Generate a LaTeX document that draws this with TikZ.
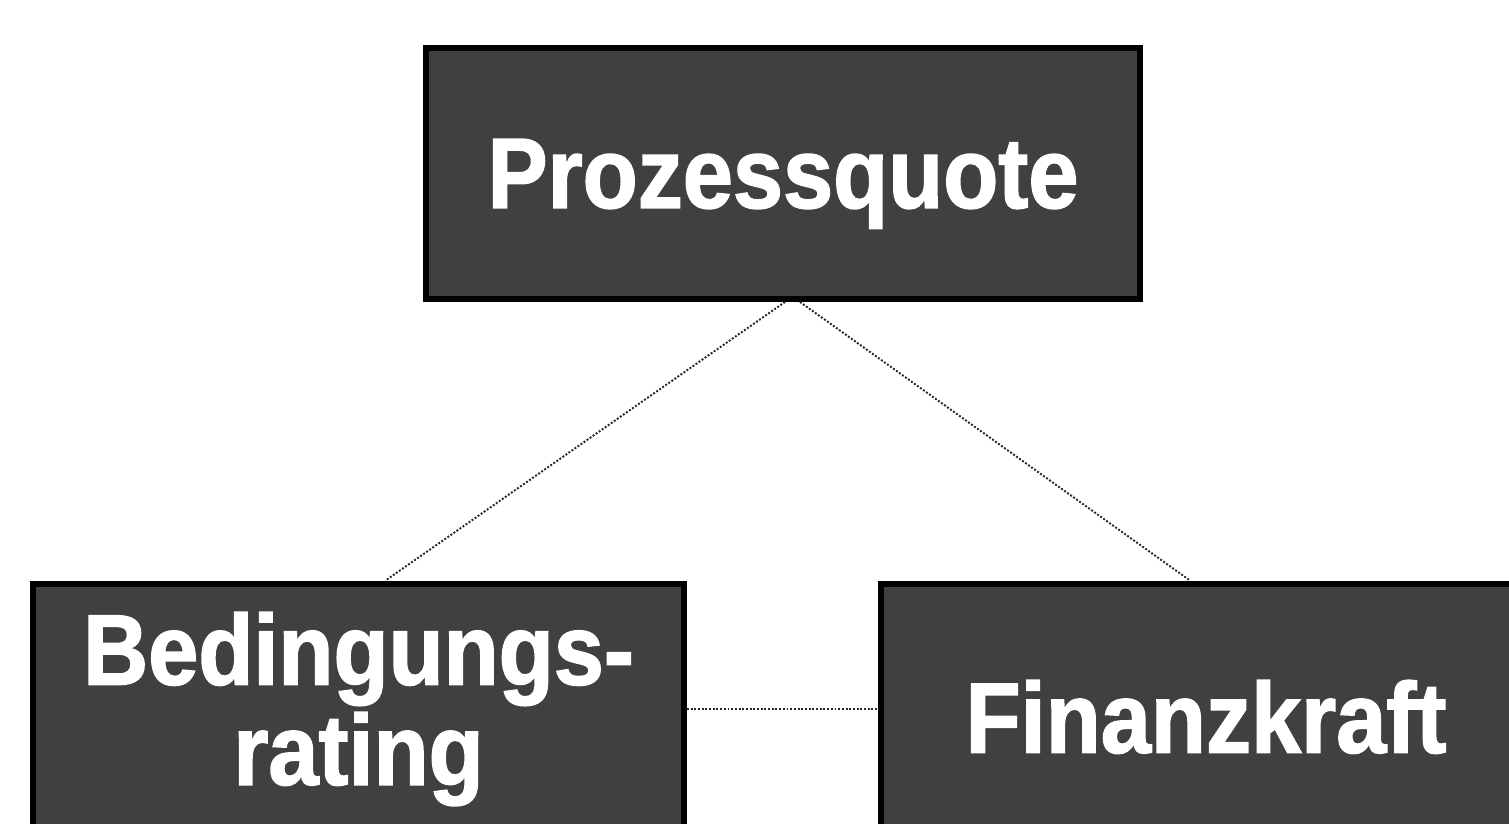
\documentclass[tikz,border=0pt]{standalone}
\usepackage{fontspec}
\newfontfamily\boxfont[FakeStretch=0.9,FakeBold=1.5]{Liberation Sans}
\usetikzlibrary{positioning}

\begin{document}
\begin{tikzpicture}[
    x=0.02cm, y=-0.02cm,
    box/.style={rectangle, draw=black, line width=0.12cm, fill=black!75, text=white,
        minimum height=5.02cm, align=center, inner sep=0pt,
        font=\boxfont\bfseries\fontsize{57}{57}\selectfont},
    link/.style={densely dotted, line width=1.1pt, draw=black!85}
]
    \useasboundingbox (0,0) rectangle (1509,824);
    \clip (0,0) rectangle (1509,824);

    \node[box, minimum width=14.28cm, text depth=0pt] (prozess) at (783,173.5) {Prozessquote};
    \node[box, minimum width=13.02cm] (bedingung) at (358.5,709) {Bedingungs-\\rating};
    \node[box, minimum width=13.00cm, text height=1.75cm, text depth=0pt] (finanz) at (1206,709) {Finanzkraft};

    \draw[link] ([xshift=0.04cm]prozess.south) -- ([xshift=0.54cm]bedingung.north);
    \draw[link] ([xshift=0.34cm]prozess.south) -- ([xshift=-0.32cm]finanz.north);
    \draw[link] (bedingung.east) -- (finanz.west);
\end{tikzpicture}
\end{document}
